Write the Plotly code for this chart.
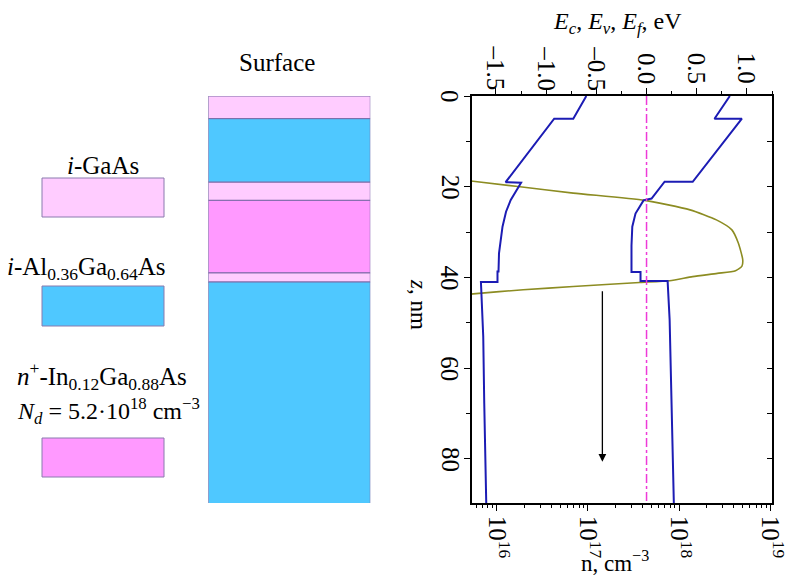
import plotly.graph_objects as go

# ---------------- data ----------------
# Conduction band edge Ec (eV) vs depth z (nm)
z_ec = [0, 5.0, 5.0, 18.9, 18.9, 22.6, 23.0, 25.9, 28.8, 33.0, 38.8, 38.8, 40.8, 40.8,
        49.3, 60.4, 69.9, 80.2, 81.6, 81.6, 89.7]
e_ec = [0.83, 0.677, 0.95, 0.46, 0.18, 0.05, -0.03, -0.11, -0.142, -0.15, -0.15, -0.06, -0.06, 0.21,
        0.23, 0.24, 0.25, 0.26, 0.26, 0.265, 0.272]

# Valence band edge Ev (eV) vs depth z (nm)
z_ev = [0, 5.0, 5.0, 19.0, 19.1, 22.9, 25.5, 28.8, 34.7, 38.7, 38.7, 41.0, 41.0,
        44.2, 53.0, 67.7, 80.9, 81.6, 81.6, 89.7]
e_ev = [-0.60, -0.73, -0.92, -1.404, -1.25, -1.353, -1.40, -1.435, -1.47, -1.475, -1.485, -1.485, -1.65,
        -1.643, -1.627, -1.617, -1.607, -1.607, -1.600, -1.597]

# Fermi level
z_ef = [0, 89.7]
e_ef = [0.0, 0.0]

# Electron concentration n (cm^-3) vs z (nm)
z_n = [18.7, 20.0, 21.4, 23.0, 25.1, 27.3, 29.5, 32.4, 36.1, 37.5, 38.5, 39.1, 39.8,
       40.7, 41.1, 42.0, 42.7, 43.6, 43.7]
n_val = [5.0e15, 1.8e16, 6.9e16, 4.2e17, 1.32e18, 2.57e18, 3.8e18, 4.47e18, 5.0e18, 4.9e18,
         4.17e18, 2.63e18, 1.41e18, 7.9e17, 3.7e17, 6.9e16, 1.95e16, 5.5e15, 5.0e15]

# Layer structure (from surface)
layer_start = [0, 5, 19, 23, 39, 41]
layer_thick = [5, 14, 4, 16, 2, 49]
layer_mat = ["GaAs", "AlGaAs", "GaAs", "InGaAs", "GaAs", "AlGaAs"]
mat_color = {"GaAs": "#ffccff", "AlGaAs": "#4fc8ff", "InGaAs": "#ff99ff"}

# Axis ticks
e_ticks = [-1.5, -1.0, -0.5, 0.0, 0.5, 1.0]
e_tick_text = ["–1.5", "–1.0", "–0.5", "0.0", "0.5", "1.0"]
n_ticks = [1e16, 1e17, 1e18, 1e19]
n_tick_text = ["10<sup>16</sup>", "10<sup>17</sup>", "10<sup>18</sup>", "10<sup>19</sup>"]
n_minor = [m * 10 ** e for e in (15, 16, 17, 18) for m in range(2, 10)]
z_ticks = [0, 20, 40, 60, 80]
z_tick_text = ["0", "20", "40", "60", "80"]

# ---------------- layout helpers ----------------
W, H = 789, 581
ML, MR, MT, MB = 10, 17, 96, 78
PW, PH = W - ML - MR, H - MT - MB


def px(x):
    return (x - ML) / PW


def py(y):
    return (H - MB - y) / PH


FONT = "Liberation Serif"
BLUE = "#1c1cb4"
OLIVE = "#8c8c22"
MAG = "#ee3ad8"
ZR = [89.7, 0]
TICKFONT = dict(family=FONT, size=25, color="black")

fig = go.Figure()

# layer stack
for s, t, m in zip(layer_start, layer_thick, layer_mat):
    fig.add_trace(go.Bar(x=[0], y=[t], base=[s], width=1, xaxis="x3", yaxis="y",
                         marker=dict(color=mat_color[m], line=dict(color="#7a6aa6", width=1)),
                         hoverinfo="skip"))

# bands
fig.add_trace(go.Scatter(x=e_ec, y=z_ec, mode="lines", xaxis="x2", yaxis="y",
                         line=dict(color=BLUE, width=2)))
fig.add_trace(go.Scatter(x=e_ev, y=z_ev, mode="lines", xaxis="x2", yaxis="y",
                         line=dict(color=BLUE, width=2)))
fig.add_trace(go.Scatter(x=e_ef, y=z_ef, mode="lines", xaxis="x2", yaxis="y2",
                         line=dict(color=MAG, width=1.5, dash="dashdot")))
# electron density
fig.add_trace(go.Scatter(x=n_val, y=z_n, mode="lines", xaxis="x", yaxis="y",
                         line=dict(color=OLIVE, width=1.6, shape="spline", smoothing=0.6)))

axis_common = dict(showline=True, linecolor="black", linewidth=1.5, showgrid=False,
                   zeroline=False, ticks="outside", tickcolor="black", tickwidth=1.3,
                   ticklen=6, tickfont=TICKFONT, automargin=False)

fig.update_layout(
    width=W, height=H,
    margin=dict(l=ML, r=MR, t=MT, b=MB, autoexpand=False),
    paper_bgcolor="white", plot_bgcolor="white",
    showlegend=False, barmode="overlay",
    font=dict(family=FONT, size=21, color="black"),
    xaxis=dict(type="log", domain=[px(471.7), 1], range=[15.725, 19.02], anchor="y",
               side="bottom", tickmode="array", tickvals=n_ticks, ticktext=n_tick_text,
               tickangle=90,
               minor=dict(tickmode="array", tickvals=n_minor, ticks="outside",
                          ticklen=3, tickcolor="black", tickwidth=1.2),
               **axis_common),
    xaxis2=dict(overlaying="x", side="top", anchor="y", range=[-1.742, 1.25],
                tickmode="array", tickvals=e_ticks, showticklabels=False,
                minor=dict(dtick=0.25, tick0=0, ticks="outside", ticklen=3,
                           tickcolor="black", tickwidth=1.2),
                **axis_common),
    xaxis3=dict(domain=[px(208.3), px(370.3)], anchor="y", range=[-0.5, 0.5],
                visible=False, fixedrange=True),
    yaxis=dict(range=ZR, anchor="x", tickmode="array", tickvals=z_ticks,
               showticklabels=False,
               minor=dict(dtick=10, tick0=0, ticks="outside", ticklen=4,
                          tickcolor="black", tickwidth=1.2),
               **axis_common),
    yaxis2=dict(overlaying="y", side="right", anchor="x", range=ZR, showline=True,
                linecolor="black", linewidth=1.5, showgrid=False, zeroline=False,
                ticks="inside", ticklen=5, tickcolor="black", tickwidth=1.3, dtick=10,
                tick0=0, showticklabels=False, automargin=False),
)

# top-axis tick labels (rotated, placed at the E-axis tick values)
for v, t in zip(e_ticks, e_tick_text):
    fig.add_annotation(text=t, x=v, xref="x2", y=py(68.5), yref="paper", showarrow=False,
                       xanchor="center", yanchor="middle", textangle=90, font=TICKFONT)
# left-axis tick labels (rotated, placed at the z tick values)
for v, t in zip(z_ticks, z_tick_text):
    fig.add_annotation(text=t, x=px(450), xref="paper", y=v, yref="y", showarrow=False,
                       xanchor="center", yanchor="middle", textangle=90, font=TICKFONT)

# swatches (legend boxes)
for (y0, y1), m in zip([(178, 217), (286, 326), (438, 477)], ["GaAs", "AlGaAs", "InGaAs"]):
    fig.add_shape(type="rect", xref="paper", yref="paper",
                  x0=px(42), x1=px(164), y0=py(y1), y1=py(y0),
                  fillcolor=mat_color[m], line=dict(color="#8a7aae", width=1))

# arrow towards substrate
fig.add_annotation(x=-0.44, y=80.6, xref="x2", yref="y", ax=-0.44, ay=42.7,
                   axref="x2", ayref="y", showarrow=True, arrowhead=2, arrowsize=1.2,
                   arrowwidth=1.3, arrowcolor="black", text="")


def label(text, x, y, size=24, xanchor="center", angle=0):
    fig.add_annotation(text=text, x=px(x), y=py(y), xref="paper", yref="paper",
                       showarrow=False, xanchor=xanchor, yanchor="middle",
                       textangle=angle, font=dict(family=FONT, size=size, color="black"))


label("<i>E</i><sub><i>c</i></sub>, <i>E</i><sub><i>v</i></sub>, <i>E</i><sub><i>f</i></sub>, eV",
      617, 23, size=24)
label("n, cm<sup>−3</sup>", 615, 561, size=23)
label("<i>z</i>, nm", 419, 304, size=23, angle=90)
label("Surface", 277, 62, size=25)
label("<i>i</i>-GaAs", 103, 165, size=25)
label("<i>i</i>-Al<sub>0.36</sub>Ga<sub>0.64</sub>As", 5, 268, size=25, xanchor="left")
label("<i>n</i><sup>+</sup>-In<sub>0.12</sub>Ga<sub>0.88</sub>As", 15, 376, size=25, xanchor="left")
label("<i>N</i><sub><i>d</i></sub> = 5.2·10<sup>18</sup> cm<sup>−3</sup>", 15, 411, size=24,
      xanchor="left")

fig.write_html("out.html", config={"displayModeBar": False},
               post_script="document.body.style.margin='0';")
